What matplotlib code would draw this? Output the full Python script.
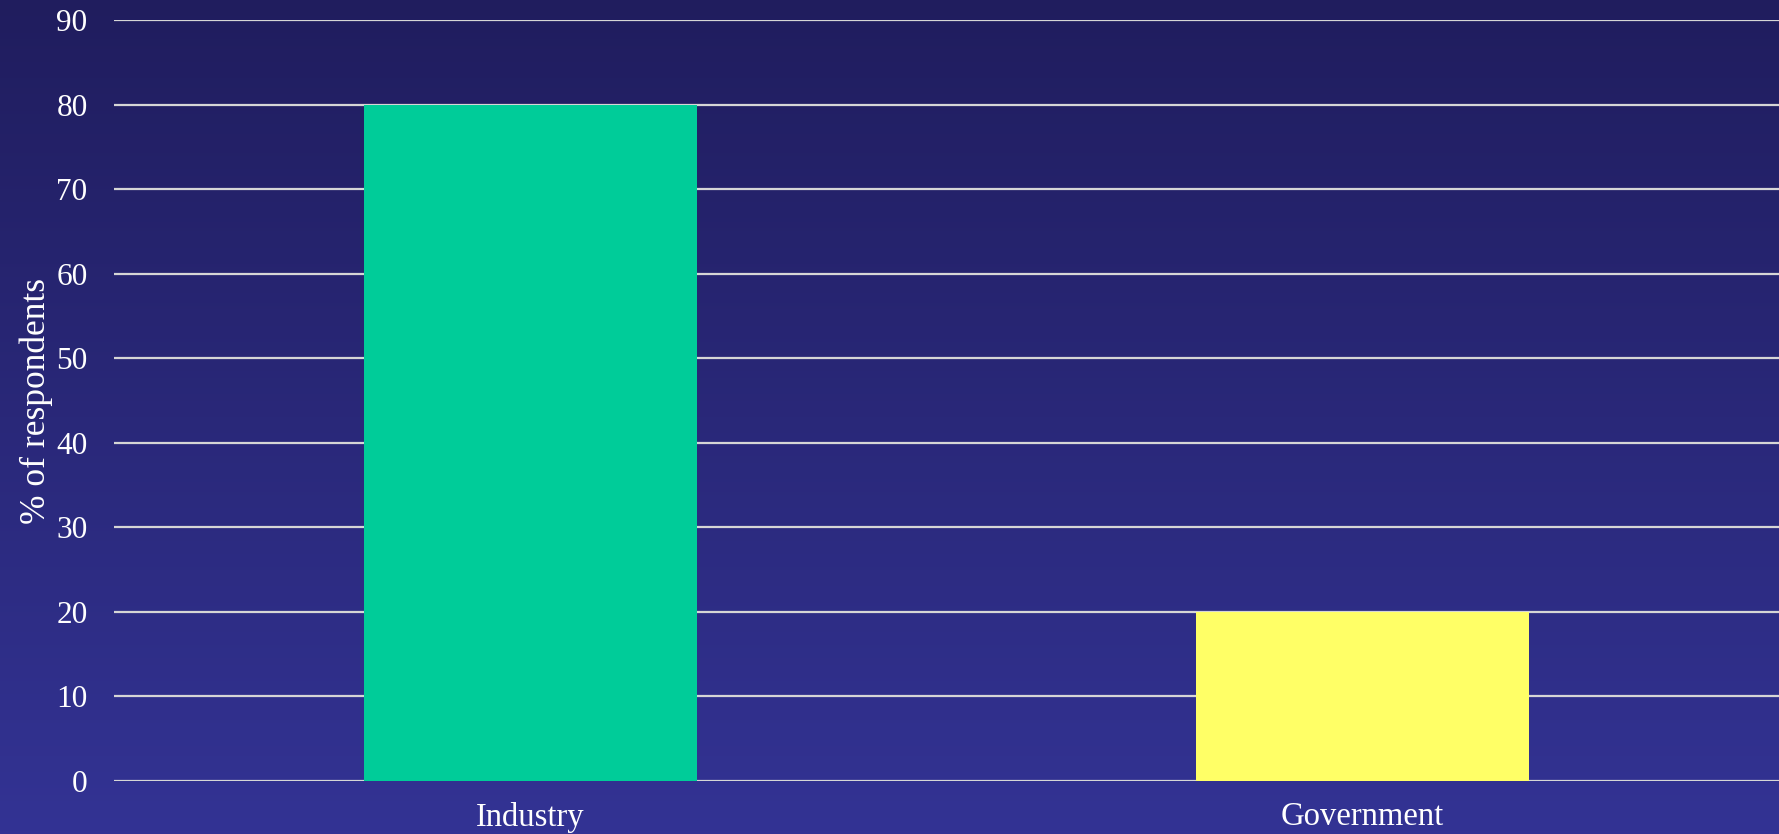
import matplotlib
matplotlib.use("Agg")
import matplotlib.pyplot as plt
import numpy as np
from matplotlib.colors import LinearSegmentedColormap

categories = ["Industry", "Government"]
values = [80, 20]
bar_colors = ["#00CC99", "#FFFF66"]
y_ticks = [0, 10, 20, 30, 40, 50, 60, 70, 80, 90]
y_label = "% of respondents"

plt.rcParams['font.family'] = ['Liberation Serif', 'DejaVu Serif']

W, H = 1779, 834
fig = plt.figure(figsize=(W / 100, H / 100), dpi=100)

# gradient background
bg = fig.add_axes([0, 0, 1, 1], zorder=-10)
cmap = LinearSegmentedColormap.from_list("bg", ["#201D5E", "#333394"])
grad = np.linspace(0, 1, 256).reshape(-1, 1)
bg.imshow(grad, aspect="auto", cmap=cmap, extent=[0, 1, 0, 1], origin="upper")
bg.set_axis_off()

left = 114 / W
right = 1.0
bottom = 1 - 781 / H
top = 1 - 20 / H
ax = fig.add_axes([left, bottom, right - left, top - bottom])
ax.patch.set_alpha(0)

x = np.arange(len(categories))
ax.bar(x, values, width=0.4, color=bar_colors, zorder=3)
ax.set_xlim(-0.5, 1.5)
ax.set_ylim(0, 90)
ax.set_yticks(y_ticks)
ax.set_xticks(x)
ax.set_xticklabels(categories)
ax.yaxis.grid(True, color="#D6D6D6", linewidth=1.6, zorder=1)
ax.set_axisbelow(True)
for s in ax.spines.values():
    s.set_visible(False)
ax.tick_params(axis="both", length=0, colors="white")
ax.tick_params(axis="y", pad=19, labelsize=22.5)
ax.tick_params(axis="x", pad=15, labelsize=23.5)
ax.set_ylabel(y_label, color="white", fontsize=25.5)
ax.yaxis.set_label_coords(-61 / (W - 114), 0.5)

fig.savefig("out.png", dpi=100)
